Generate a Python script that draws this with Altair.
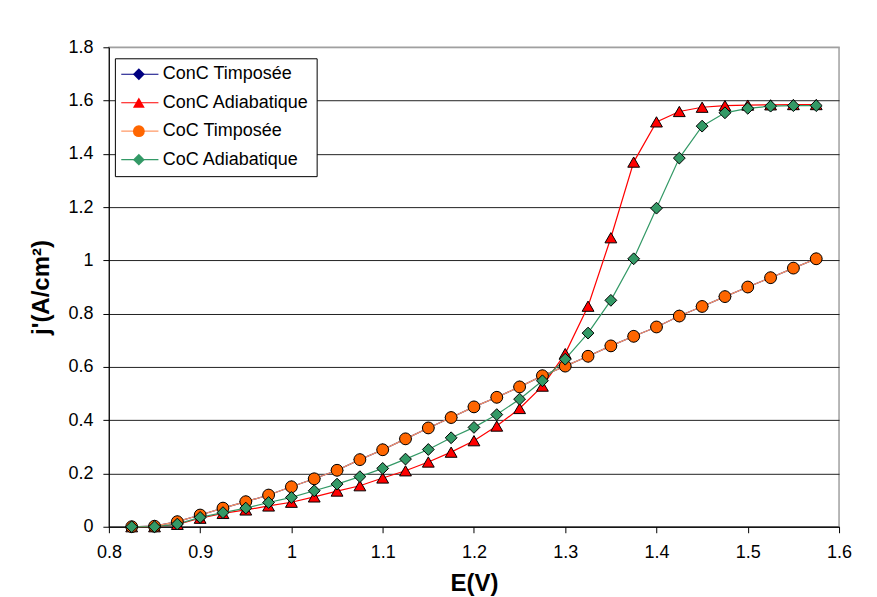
import altair as alt
import pandas as pd

# ---- data ----
E = [0.825, 0.85, 0.875, 0.9, 0.925, 0.95, 0.975, 1.0, 1.025, 1.05, 1.075,
     1.1, 1.125, 1.15, 1.175, 1.2, 1.225, 1.25, 1.275, 1.3, 1.325, 1.35,
     1.375, 1.4, 1.425, 1.45, 1.475, 1.5, 1.525, 1.55, 1.575]

conc_timposee = [0.0, 0.002, 0.019, 0.044, 0.070, 0.094, 0.119, 0.150, 0.180, 0.212, 0.252,
                 0.289, 0.330, 0.371, 0.410, 0.450, 0.486, 0.525, 0.567, 0.603, 0.640, 0.679,
                 0.715, 0.750, 0.791, 0.827, 0.864, 0.900, 0.935, 0.971, 1.006]

conc_adiabatique = [0.0, 0.0, 0.009, 0.032, 0.050, 0.063, 0.078, 0.092, 0.112, 0.134, 0.154,
                    0.183, 0.210, 0.243, 0.280, 0.323, 0.378, 0.444, 0.528, 0.650, 0.828, 1.085,
                    1.369, 1.520, 1.559, 1.575, 1.581, 1.583, 1.584, 1.585, 1.585]

coc_timposee = [0.0, 0.002, 0.019, 0.044, 0.070, 0.094, 0.119, 0.150, 0.180, 0.212, 0.252,
                0.289, 0.330, 0.371, 0.410, 0.450, 0.486, 0.525, 0.567, 0.603, 0.640, 0.679,
                0.715, 0.750, 0.791, 0.827, 0.864, 0.900, 0.935, 0.971, 1.006]

coc_adiabatique = [0.0, 0.0, 0.010, 0.035, 0.053, 0.070, 0.091, 0.110, 0.135, 0.160, 0.188,
                   0.219, 0.254, 0.290, 0.334, 0.373, 0.421, 0.479, 0.548, 0.629, 0.727, 0.850,
                   1.006, 1.196, 1.384, 1.504, 1.554, 1.571, 1.579, 1.581, 1.581]

series_names = ["ConC Timposée", "ConC Adiabatique", "CoC Timposée", "CoC Adiabatique"]
line_colors = ["#000080", "#FF0000", "#FF9966", "#339966"]
marker_fills = ["#000080", "#FF0000", "#FF6600", "#339966"]
marker_shapes = ["diamond", "triangle-up", "circle", "diamond"]

x_ticks = [0.8, 0.9, 1.0, 1.1, 1.2, 1.3, 1.4, 1.5, 1.6]
y_ticks = [0, 0.2, 0.4, 0.6, 0.8, 1.0, 1.2, 1.4, 1.6, 1.8]

rows = []
for name, vals in zip(series_names, [conc_timposee, conc_adiabatique, coc_timposee, coc_adiabatique]):
    for e, v in zip(E, vals):
        rows.append({"E": e, "j": v, "serie": name})
df = pd.DataFrame(rows)

FONT = "Liberation Sans"

x_enc = alt.X(
    "E:Q",
    scale=alt.Scale(domain=[0.8, 1.6], nice=False, zero=False),
    axis=alt.Axis(values=x_ticks, format="~g", title="E(V)", grid=False,
                  labelFlush=False, labelPadding=11, titlePadding=10),
)
y_enc = alt.Y(
    "j:Q",
    scale=alt.Scale(domain=[0, 1.8], nice=False),
    axis=alt.Axis(values=y_ticks, format="~g", title="j'(A/cm²)", grid=True,
                  gridColor={"condition": {"test": "datum.value >= 1.79", "value": "#a0a0a0"},
                             "value": "#222222"},
                  labelFlush=False, labelPadding=10, titlePadding=14),
)

# legend of the lines (white box with black border, visible labels)
legend_lines = alt.Legend(
    orient="none", legendX=6, legendY=11, title=None,
    symbolType="M-3.1,0L3.1,0", symbolSize=144, symbolStrokeWidth=1.2,
    symbolOffset=9, labelOffset=14,
    labelFont=FONT, labelFontSize=18, labelColor="black",
    padding=7, rowPadding=10.5,
    fillColor="white", strokeColor="black",
)

# legend of the markers, laid exactly on top of the line legend
legend_markers = alt.Legend(
    orient="top-left", offset=10, title=None,
    symbolSize=140, symbolStrokeColor="black", symbolStrokeWidth=1,
    symbolOpacity=1, symbolOffset=3.0, labelOffset=14,
    labelFont=FONT, labelFontSize=18, labelOpacity=0,
    padding=8, rowPadding=10.5,
)

lines = alt.Chart(df).mark_line(strokeWidth=1.2).encode(
    x=x_enc, y=y_enc,
    color=alt.Color("serie:N", sort=series_names, scale=alt.Scale(range=line_colors),
                    legend=legend_lines),
)

points = alt.Chart(df).mark_point(filled=True, size=140, stroke="black", strokeWidth=1, opacity=1).encode(
    x=x_enc, y=y_enc,
    fill=alt.Fill("serie:N", scale=alt.Scale(domain=series_names, range=marker_fills),
                  legend=legend_markers),
    shape=alt.Shape("serie:N", scale=alt.Scale(domain=series_names, range=marker_shapes),
                    legend=legend_markers),
)

chart = alt.layer(lines, points).properties(
    width=731, height=480,
    autosize=alt.AutoSizeParams(type="none"),
    padding={"left": 101, "top": 39, "right": 30, "bottom": 70},
    background="white",
).configure_view(
    stroke="#a0a0a0", strokeWidth=1.5,
).configure_axis(
    labelFont=FONT, labelFontSize=18, labelColor="black",
    titleFont=FONT, titleFontSize=24, titleFontWeight="bold", titleColor="black",
    tickColor="black", tickSize=6, domainColor="black", domainWidth=1,
    gridWidth=1,
)

chart.save("out.html", embed_options={"renderer": "svg", "actions": False})
